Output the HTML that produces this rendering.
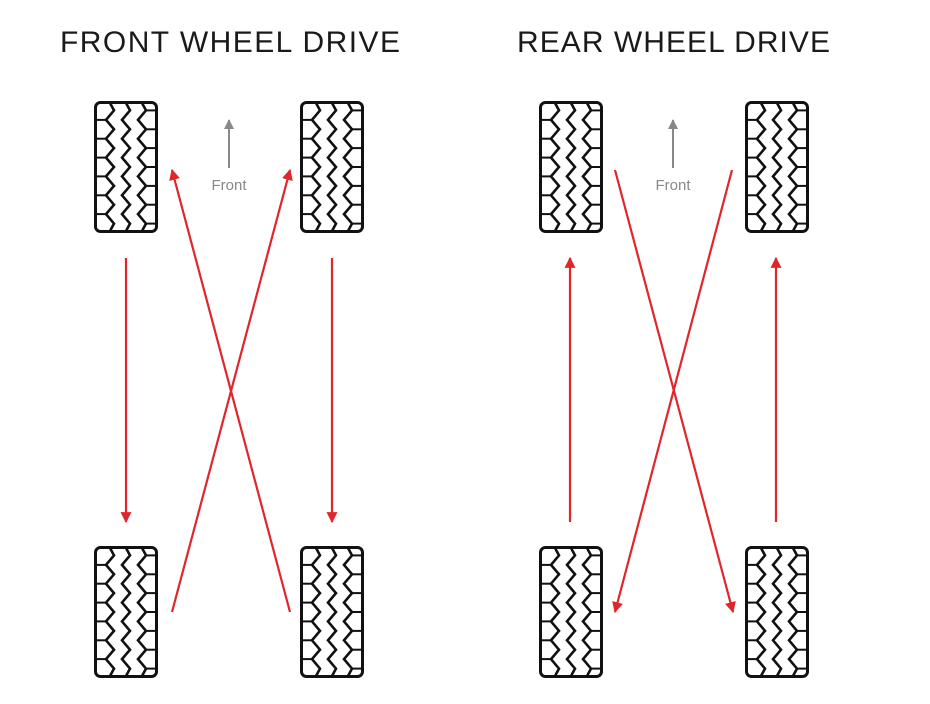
<!DOCTYPE html>
<html><head><meta charset="utf-8"><style>html,body{margin:0;padding:0;background:#fff;}svg{display:block}</style></head>
<body>
<svg width="930" height="704" viewBox="0 0 930 704" xmlns="http://www.w3.org/2000/svg">
<defs>
<g id="t">
<rect x="1.5" y="1.5" width="61" height="129" rx="5" fill="#fff" stroke="#111" stroke-width="3"/>
<g fill="none" stroke="#111" stroke-width="2.6" stroke-linejoin="miter">
<polyline points="16,2 20,9.4 12,18.9 20,28.3 12,37.7 20,47.1 12,56.6 20,66 12,75.4 20,84.9 12,94.3 20,103.7 12,113.1 20,122.6 16,130"/>
<polyline points="32,2 36,9.4 28,18.9 36,28.3 28,37.7 36,47.1 28,56.6 36,66 28,75.4 36,84.9 28,94.3 36,103.7 28,113.1 36,122.6 32,130"/>
<polyline points="48,2 52,9.4 44,18.9 52,28.3 44,37.7 52,47.1 44,56.6 52,66 44,75.4 52,84.9 44,94.3 52,103.7 44,113.1 52,122.6 48,130"/>
</g>
<g stroke="#111" stroke-width="2">
<line x1="2" y1="18.9" x2="12" y2="18.9"/><line x1="2" y1="37.7" x2="12" y2="37.7"/><line x1="2" y1="56.6" x2="12" y2="56.6"/><line x1="2" y1="75.4" x2="12" y2="75.4"/><line x1="2" y1="94.3" x2="12" y2="94.3"/><line x1="2" y1="113.1" x2="12" y2="113.1"/>
<line x1="52" y1="9.4" x2="62" y2="9.4"/><line x1="52" y1="28.3" x2="62" y2="28.3"/><line x1="52" y1="47.1" x2="62" y2="47.1"/><line x1="52" y1="66" x2="62" y2="66"/><line x1="52" y1="84.9" x2="62" y2="84.9"/><line x1="52" y1="103.7" x2="62" y2="103.7"/><line x1="52" y1="122.6" x2="62" y2="122.6"/>
</g>
</g>
<marker id="r" viewBox="0 0 10 10" refX="9" refY="5" markerWidth="5" markerHeight="5" orient="auto"><path d="M0,0 L10,5 L0,10 z" fill="#e0262a"/></marker>
<marker id="g" viewBox="0 0 10 10" refX="9" refY="5" markerWidth="5" markerHeight="5" orient="auto"><path d="M0,0 L10,5 L0,10 z" fill="#888"/></marker>
</defs>
<g font-family="Liberation Sans, sans-serif" fill="#1a1a1a" font-size="30">
<text x="60" y="52" textLength="340" lengthAdjust="spacing">FRONT WHEEL DRIVE</text>
<text x="517" y="52" textLength="313" lengthAdjust="spacing">REAR WHEEL DRIVE</text>
</g>
<use href="#t" x="94" y="101"/><use href="#t" x="300" y="101"/>
<use href="#t" x="94" y="546"/><use href="#t" x="300" y="546"/>
<use href="#t" x="539" y="101"/><use href="#t" x="745" y="101"/>
<use href="#t" x="539" y="546"/><use href="#t" x="745" y="546"/>
<g stroke="#888" stroke-width="2">
<line x1="229" y1="168" x2="229" y2="120" marker-end="url(#g)"/>
<line x1="673" y1="168" x2="673" y2="120" marker-end="url(#g)"/>
</g>
<g font-family="Liberation Sans, sans-serif" fill="#888" font-size="15" text-anchor="middle">
<text x="229" y="190">Front</text><text x="673" y="190">Front</text>
</g>
<g stroke="#e0262a" stroke-width="2.2">
<line x1="126" y1="258" x2="126" y2="522" marker-end="url(#r)"/>
<line x1="332" y1="258" x2="332" y2="522" marker-end="url(#r)"/>
<line x1="172" y1="612" x2="290" y2="170" marker-end="url(#r)"/>
<line x1="290" y1="612" x2="172" y2="170" marker-end="url(#r)"/>
<line x1="570" y1="522" x2="570" y2="258" marker-end="url(#r)"/>
<line x1="776" y1="522" x2="776" y2="258" marker-end="url(#r)"/>
<line x1="615" y1="170" x2="733" y2="612" marker-end="url(#r)"/>
<line x1="732" y1="170" x2="615" y2="612" marker-end="url(#r)"/>
</g>
</svg>
</body></html>
